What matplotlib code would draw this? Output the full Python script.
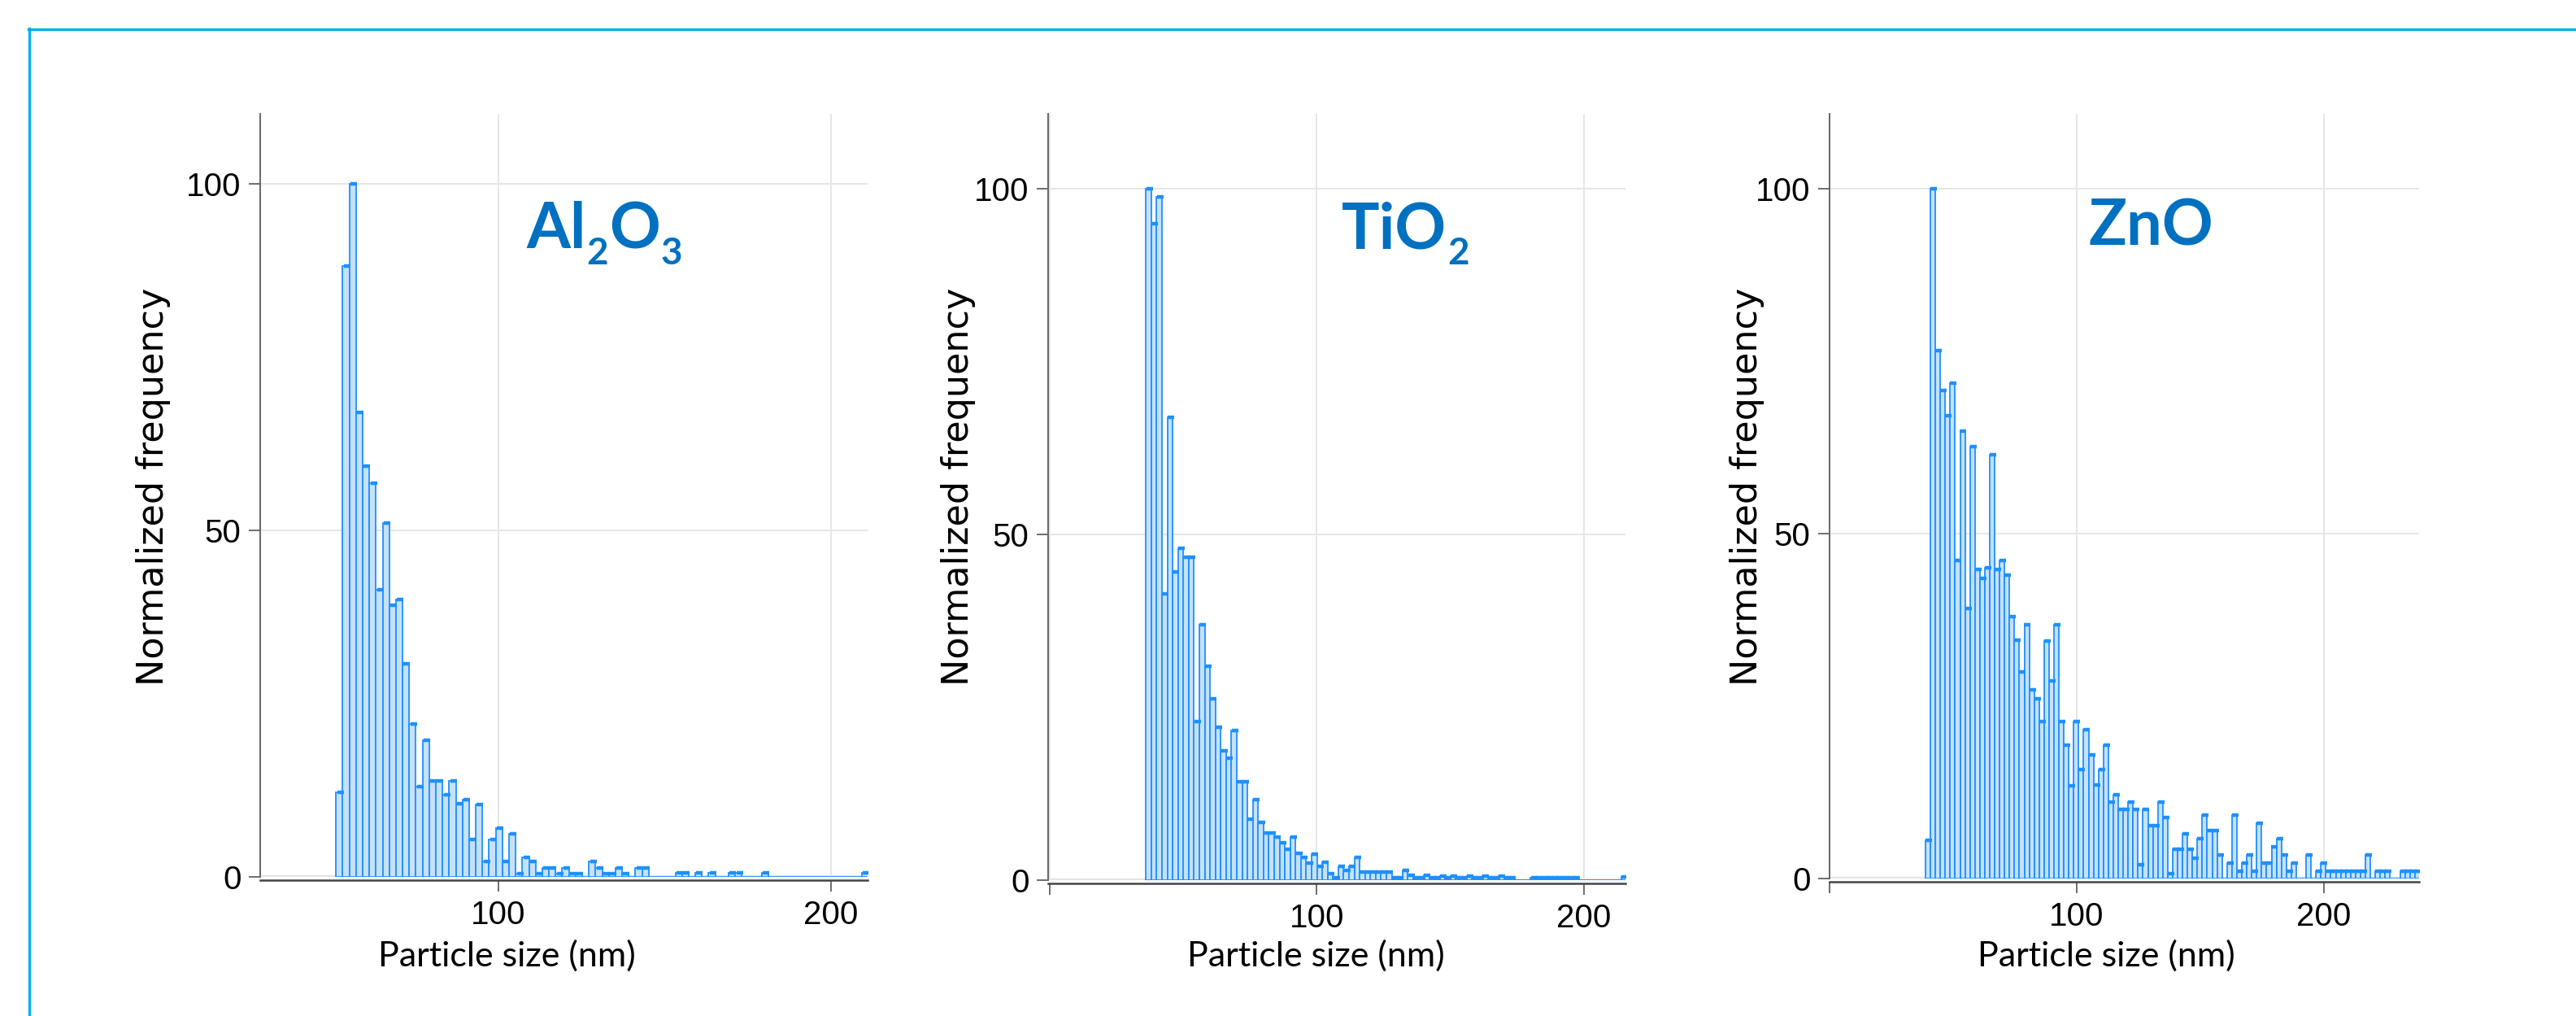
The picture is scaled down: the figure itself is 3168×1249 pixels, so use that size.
# Particle size histograms (Al2O3, TiO2, ZnO)

import matplotlib.pyplot as plt
from matplotlib.lines import Line2D
import numpy as np

plt.rcParams['font.family'] = ['Liberation Sans', 'DejaVu Sans']

# bin width (nm) and first bin edge per sample
bin_w = 2.0
al_start = 51.2
ti_start = 36.1
zn_start = 38.8

# normalized frequency per bin
al_vals = [12.2, 88.1, 100, 67.0, 59.3, 56.8, 41.4, 51.0, 39.2, 40.0,
           30.7, 22.1, 13.0, 19.7, 13.8, 13.8, 11.9, 13.8, 10.6, 11.2,
           5.4, 10.4, 2.2, 5.4, 7.0, 2.2, 6.2, 0.5, 2.8, 2.2,
           0.5, 1.3, 1.3, 0.5, 1.3, 0.5, 0.5, 0, 2.2, 1.3,
           0.5, 0.5, 1.3, 0.5, 0, 1.3, 1.3, 0, 0, 0,
           0, 0.6, 0.6, 0, 0.6, 0, 0.6, 0, 0, 0.6,
           0.6, 0, 0, 0, 0.6, 0, 0, 0, 0, 0,
           0, 0, 0, 0, 0, 0, 0, 0, 0, 0.6]

ti_vals = [100, 94.9, 98.8, 41.4, 66.9, 44.6, 48.0, 46.7, 46.7, 23.0,
           37.0, 31.0, 26.2, 22.1, 18.7, 17.7, 21.7, 14.2, 14.2, 8.8,
           11.6, 8.4, 6.8, 6.8, 6.2, 5.4, 4.5, 6.2, 3.9, 3.3,
           2.5, 3.8, 2.0, 2.6, 0.9, 0.3, 2.0, 1.4, 2.0, 3.3,
           1.2, 1.2, 1.2, 1.2, 1.2, 1.2, 0.3, 0.3, 1.4, 0.7,
           0.3, 0.3, 0.7, 0.3, 0.3, 0.6, 0.3, 0.6, 0.3, 0.3,
           0.6, 0.3, 0.3, 0.6, 0.3, 0.3, 0.6, 0.3, 0.3, 0,
           0, 0, 0.3, 0.3, 0.3, 0.3, 0.3, 0.3, 0.3, 0.3,
           0.3, 0, 0, 0, 0, 0, 0, 0, 0, 0.5]

zn_vals = [5.5, 100, 76.5, 70.8, 67.1, 71.8, 46.1, 64.9, 39.1, 62.6,
           44.8, 43.5, 45.0, 61.4, 44.8, 46.1, 44.0, 38.0, 34.6, 29.9,
           36.8, 27.4, 26.1, 22.8, 34.4, 28.7, 36.8, 22.8, 19.3, 13.4,
           22.8, 15.8, 21.6, 17.9, 13.6, 15.8, 19.3, 11.1, 12.2, 10.0,
           10.0, 11.1, 10.0, 2.0, 10.0, 7.7, 7.7, 11.1, 8.8, 0.7,
           4.2, 4.2, 6.5, 4.2, 3.0, 5.8, 9.2, 6.9, 6.9, 3.4,
           0, 2.2, 9.2, 1.1, 2.2, 3.4, 1.1, 8.0, 2.2, 2.2,
           4.6, 5.8, 3.4, 1.1, 2.2, 0, 0, 3.4, 0, 1.1,
           2.2, 1.1, 1.1, 1.1, 1.1, 1.1, 1.1, 1.1, 1.1, 3.4,
           0, 1.1, 1.1, 1.1, 0, 0, 1.1, 1.1, 1.1, 1.1]

# titles as (text, subscript?) pieces
titles = [
    [('Al', False), ('2', True), ('O', False), ('3', True)],
    [('TiO', False), ('2', True)],
    [('ZnO', False)],
]

W, H = 3168, 1249
fig = plt.figure(figsize=(W / 100, H / 100), dpi=100)
fig.patch.set_facecolor('white')
renderer = fig.canvas.get_renderer()

# (left px, right px, zero px, top px, xlim, px per unit y)
panels = [
    (320, 1067, 1078, 140, (28.4, 211.0), 8.52, al_start, al_vals, [100, 200], ['100', '200']),
    (1289, 1999, 1082, 140, (-0.5, 215.6), 8.50, ti_start, ti_vals, [0, 100, 200], ['', '100', '200']),
    (2250, 2975, 1080, 140, (0.0, 238.5), 8.48, zn_start, zn_vals, [0, 100, 200], ['', '100', '200']),
]
title_pos = [(647, 305), (1650, 305), (2569, 302)]
ylab_x = [188, 1178, 2148]
xlab_x = [623, 1618, 2590]

bar_fill = '#C6E1FC'
bar_edge = '#1E90FF'
title_color = '#0070C0'

for i, (l, r, y0, top, xl, ppu, start, vals, xt, xtl) in enumerate(panels):
    ax = fig.add_axes([l / W, 1 - y0 / H, (r - l) / W, (y0 - top) / H])
    vals = np.array(vals)
    edges = start + np.arange(len(vals)) * bin_w

    ax.axhline(0, color='#e3e3e3', lw=3, zorder=0)
    ax.bar(edges, vals, width=bin_w, align='edge', color=bar_fill,
           edgecolor=bar_edge, linewidth=1.3, zorder=2)
    nz = vals > 0
    ax.plot(edges[nz] + bin_w * 0.65, vals[nz], ls='none', marker='_',
            ms=6, mew=3.2, color=bar_edge, zorder=3)

    ax.set_xlim(*xl)
    ax.set_ylim(0, (y0 - top) / ppu)
    ax.set_xticks(xt)
    ax.set_xticklabels(xtl)
    ax.set_yticks([0, 50, 100])
    ax.grid(color='#e6e6e6', lw=1.4)
    ax.set_axisbelow(True)

    for s in ['top', 'right']:
        ax.spines[s].set_visible(False)
    ax.spines['left'].set_color('#666666')
    ax.spines['left'].set_linewidth(1.4)
    ax.spines['bottom'].set_color('#444444')
    ax.spines['bottom'].set_linewidth(1.8)
    ax.spines['bottom'].set_position(('outward', 3))
    ax.tick_params(axis='both', direction='out', length=10, width=1.2,
                   color='#555555', labelsize=29, pad=7)
    ax.set_facecolor('none')

    fig.text(ylab_x[i] / W, 1 - 598 / H, 'Normalized frequency', rotation=90,
             ha='center', va='center', fontsize=32, family='DejaVu Sans')
    fig.text(xlab_x[i] / W, 1 - 1175 / H, 'Particle size (nm)',
             ha='center', va='center', fontsize=31, family='Lato')

    # chemical formula, subscripts placed piece by piece
    tx, ty = title_pos[i]
    for s, sub in titles[i]:
        yy = ty + 20 if sub else ty
        t = fig.text(tx / W, 1 - yy / H, s, fontsize=33 if sub else 56,
                     family='Lato', weight='bold', color=title_color,
                     ha='left', va='baseline')
        tx = t.get_window_extent(renderer=renderer).x1 + 1

# cyan frame (top and left edges only)
fig.add_artist(Line2D([35 / W, 1], [1 - 36 / H, 1 - 36 / H], color='#00B0F0', lw=2.4))
fig.add_artist(Line2D([36 / W, 36 / W], [1 - 35 / H, 0], color='#00B0F0', lw=2.4))

fig.savefig('out.png', dpi=100)
